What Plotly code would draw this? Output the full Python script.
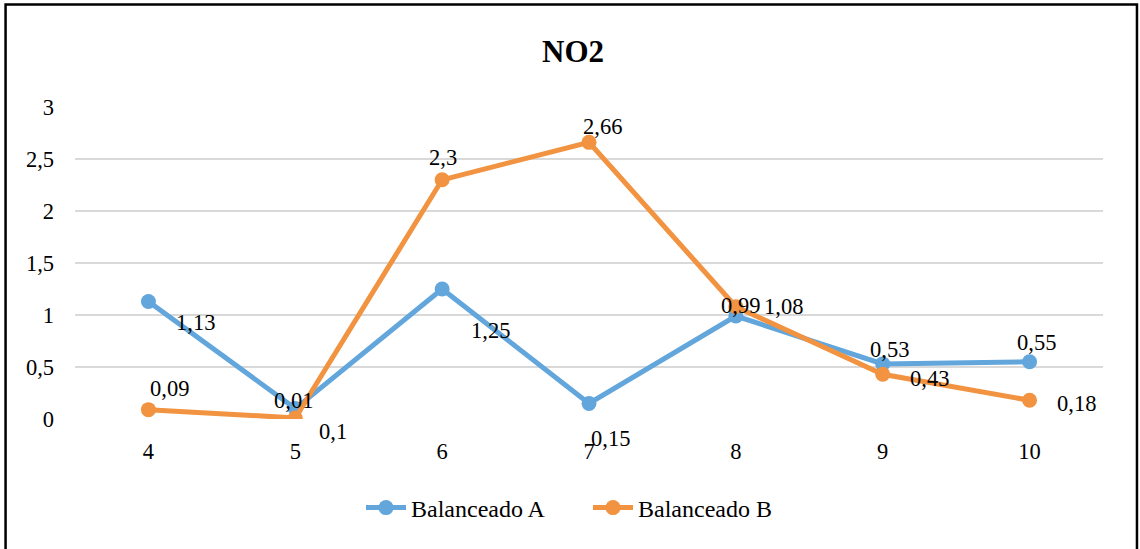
import plotly.graph_objects as go

# NO2 readings per sample point for the two balanced feeds
categories = ["4", "5", "6", "7", "8", "9", "10"]
balanceado_a = [1.13, 0.1, 1.25, 0.15, 0.99, 0.53, 0.55]
balanceado_b = [0.09, 0.01, 2.3, 2.66, 1.08, 0.43, 0.18]
y_ticks = [0, 0.5, 1, 1.5, 2, 2.5, 3]

BLUE = "#62A6DC"
ORANGE = "#F19340"
FONT = "'Times New Roman', 'Liberation Serif', 'DejaVu Serif', serif"

W, H = 1140, 549
ML, MR, MT, MB = 74.5, 36.5, 107, 130
PW, PH = W - ML - MR, H - MT - MB


def fmt(v):
    return f"{v:g}".replace(".", ",")


fig = go.Figure()
for name, vals, col in [("Balanceado A", balanceado_a, BLUE),
                        ("Balanceado B", balanceado_b, ORANGE)]:
    fig.add_trace(go.Scatter(
        x=categories, y=vals, name=name, mode="lines+markers",
        line=dict(color=col, width=5),
        marker=dict(color=col, size=15),
    ))

# label offsets (pixels, dx right / dy up) for each point's value text
off_a = [(47, -21), (38, -23), (48, -41), (21, -35), (5, 11), (7, 14), (7, 19)]
off_b = [(21, 21), (-2, 17), (1, 22), (13, 16), (48, 0), (47, -4), (47, -3)]

annotations = []
for vals, offs in [(balanceado_a, off_a), (balanceado_b, off_b)]:
    for i, (v, (dx, dy)) in enumerate(zip(vals, offs)):
        # category axes take the category index as the annotation position
        annotations.append(dict(
            x=i, y=v, xref="x", yref="y", text=fmt(v), showarrow=False,
            xshift=dx, yshift=dy, font=dict(family=FONT, size=22.5, color="#000000"),
            xanchor="center", yanchor="middle",
        ))

fig.update_layout(
    width=W, height=H,
    margin=dict(l=ML, r=MR, t=MT, b=MB),
    paper_bgcolor="white", plot_bgcolor="white",
    font=dict(family=FONT, size=22, color="#000000"),
    title=dict(text="<b>NO2</b>", x=573 / W, xanchor="center",
               y=1 - 51 / H, yanchor="middle", yref="container",
               font=dict(family=FONT, size=31, color="#000000")),
    xaxis=dict(type="category", range=[-0.5, 6.5], showgrid=False,
               zeroline=False, showline=False, ticks="",
               ticklabelstandoff=16, tickfont=dict(family=FONT, size=22.5)),
    yaxis=dict(range=[0, 3], tickvals=y_ticks, ticktext=[fmt(t) for t in y_ticks],
               showgrid=True, gridcolor="#D9D9D9", gridwidth=1.5,
               zeroline=False, showline=False, ticks="",
               ticklabelstandoff=20, tickfont=dict(family=FONT, size=22.5)),
    legend=dict(orientation="h", x=(588 - ML) / PW, xanchor="center",
                y=(H - MB - 508) / PH, yanchor="middle",
                font=dict(family=FONT, size=24), itemwidth=40,
                entrywidth=172, entrywidthmode="pixels",
                bgcolor="rgba(0,0,0,0)"),
    annotations=annotations,
    showlegend=True,
)

# outer chart border
fig.add_shape(type="rect", xref="paper", yref="paper",
              x0=(5 - ML) / PW, x1=(1137.5 - ML) / PW,
              y0=(H - MB - 560) / PH, y1=(H - MB - 4.5) / PH,
              line=dict(color="#000000", width=2.5), fillcolor="rgba(0,0,0,0)",
              layer="below")

fig.write_html("out.html")
